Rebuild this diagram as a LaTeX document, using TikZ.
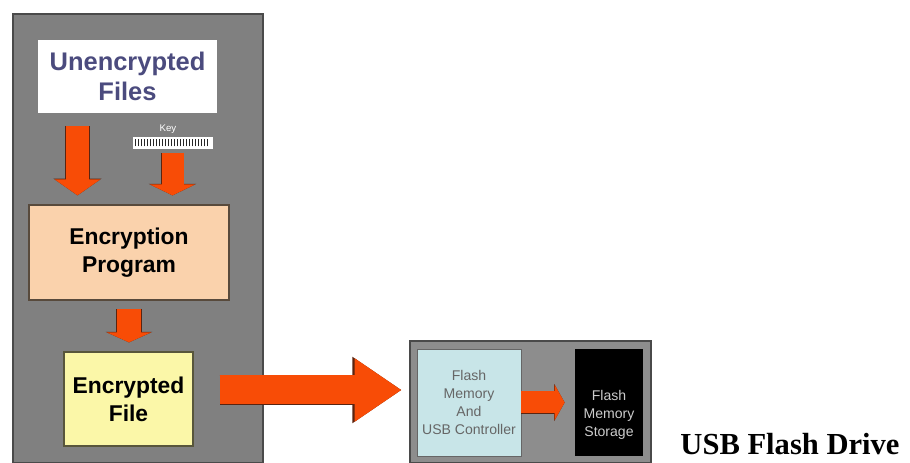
\documentclass[tikz,border=0pt]{standalone}
\usepackage{fontspec}
\setmainfont{Liberation Sans}
\newfontfamily\captionfont{Liberation Serif}
\usetikzlibrary{arrows.meta, positioning, calc}
\definecolor{panelgray}{HTML}{808080}
\definecolor{paneledge}{HTML}{4A4A4A}
\definecolor{arrowred}{HTML}{F84C06}
\definecolor{arrowedge}{HTML}{5A2410}
\definecolor{titleblue}{HTML}{4B4B7E}
\definecolor{programpeach}{HTML}{FAD2AC}
\definecolor{fileyellow}{HTML}{FBF7A8}
\definecolor{controllercyan}{HTML}{C8E5E8}
\tikzset{
	panelbox/.style={fill=panelgray, draw=paneledge, line width=0.6pt}
}
\tikzset{
	blockbox/.style={draw=#1!35!black, fill=#1, line width=0.7pt, align=center, font=\fontsize{13}{16}\selectfont\bfseries}
}
\tikzset{
	flashtext/.style={align=center, font=\fontsize{8}{10.2}\selectfont}
}
\tikzset{
	blockarrow/.style args={#1/#2/#3}{
		draw=arrowred, line width=#1, -{Triangle[width=#2, length=#3]},
		preaction={draw=arrowedge, line width=#1+1pt, -{Triangle[width=#2, length=#3, scale=1.05]}}
	}
}

\begin{document}
\begin{tikzpicture}[>=stealth]
      \useasboundingbox (0,0) rectangle (18.2,9.26);

      % encryption side
      \node[panelbox, minimum width=5cm, minimum height=8.98cm] (hostpanel) at (2.76,4.49) {};
      \node[fill=white, minimum width=3.58cm, minimum height=1.46cm, align=center,
        text=titleblue, font=\fontsize{14.5}{17}\selectfont\bfseries] (plainfiles) at (2.55,7.73) {Unencrypted\\Files};
      \node[blockbox=programpeach, minimum width=4cm, minimum height=1.9cm] (program) at (2.58,4.21) {Encryption\\Program};
      \node[blockbox=fileyellow, minimum width=2.58cm, minimum height=1.88cm] (cipherfile) at (2.57,1.28) {Encrypted\\File};

      % the key
      \node[draw=white, fill=white, minimum width=1.58cm, minimum height=0.22cm, inner sep=0pt] (keybar) at (3.45,6.41) {};
      \node[text=white, font=\fontsize{5.5}{6}\selectfont, inner sep=0pt, above=0.06cm of keybar, xshift=-0.09cm] (keylabel) {Key};
      \foreach \i in {0.06,0.12,...,1.54}
        \draw[black!85, line width=0.9pt] ([xshift=\i cm, yshift=0.04cm]keybar.south west) -- ([xshift=\i cm, yshift=-0.04cm]keybar.north west);

      % flash drive
      \node[panelbox, fill=panelgray!90!white, minimum width=4.82cm, minimum height=2.44cm] (drivepanel) at (10.61,1.22) {};
      \node[draw=black!60, fill=controllercyan, minimum width=2.08cm, minimum height=2.14cm, inner sep=0pt,
        flashtext, text=black!60] (controller) at (9.38,1.21) {Flash\\Memory\\And\\USB Controller};
      \node[fill=black, minimum width=1.36cm, minimum height=2.14cm, inner sep=0pt] (storage) at (12.18,1.21) {};
      \node[flashtext, text=black!20, inner sep=0pt] (storagetext) at ([yshift=-0.24cm]storage.center) {Flash\\Memory\\Storage};
      \node[anchor=base, font=\captionfont\fontsize{17.4}{20}\selectfont\bfseries, inner sep=0pt] (drivecaption) at (15.8,0.16) {USB Flash Drive};

      % block arrows
      \draw[blockarrow=0.46cm/0.9cm/0.32cm, shorten <=0.26cm, shorten >=0.18cm]
        ([xshift=-1cm]plainfiles.south) -- ([xshift=-1.03cm]program.north);
      \draw[blockarrow=0.44cm/0.9cm/0.22cm, shorten <=0.1cm, shorten >=0.18cm]
        (keybar.south) -- (keybar.south |- program.north);
      \draw[blockarrow=0.48cm/0.88cm/0.2cm, shorten <=0.16cm, shorten >=0.18cm]
        (program.south) -- (program.south |- cipherfile.north);
      \draw[blockarrow=0.58cm/1.2cm/0.94cm, shorten <=0.52cm, shorten >=0.3cm]
        ([yshift=0.18cm]cipherfile.east) -- ([yshift=0.18cm]cipherfile.east -| controller.west);
      \draw[blockarrow=0.44cm/0.7cm/0.2cm, shorten >=0.2cm]
        (controller.east) -- (storage.west);
    \end{tikzpicture}
\end{document}
